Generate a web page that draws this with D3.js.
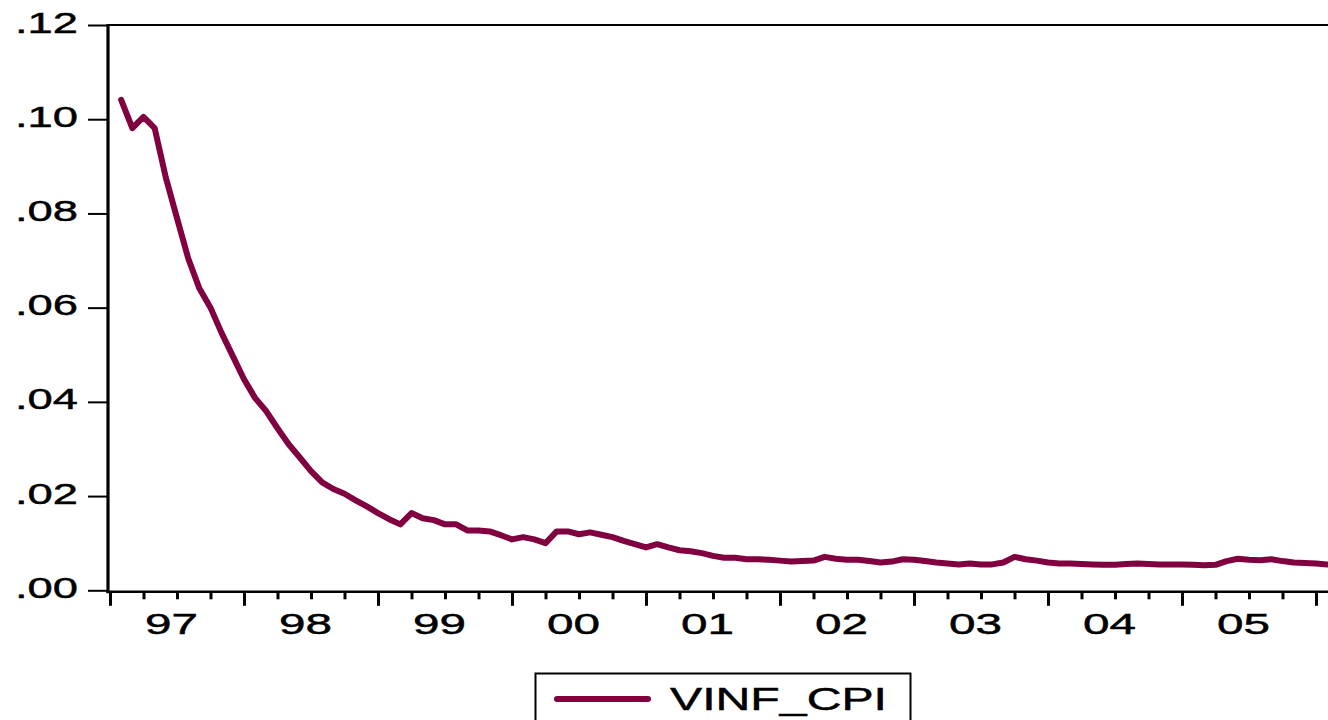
<!DOCTYPE html>
<html>
<head>
<meta charset="utf-8">
<script src="https://cdn.jsdelivr.net/npm/d3@7"></script>
<style>
  html, body { margin: 0; padding: 0; background: #fff; }
  svg { display: block; }
  text { font-family: "Liberation Sans", Arial, Helvetica, sans-serif; fill: #000; stroke: #000; stroke-width: 0.45px; }
</style>
</head>
<body>
<svg id="chart" width="1328" height="720"></svg>
<script>
// ---- data (monthly, 1997M01 .. 2006M01) ----
const seriesName = "VINF_CPI";
const startYear = 1997;
const vinfCpi = [
  0.1041, 0.0981, 0.1005, 0.0981, 0.0876, 0.0790, 0.0705, 0.0641, 0.0600, 0.0546,
  0.0497, 0.0448, 0.0408, 0.0380, 0.0344, 0.0310, 0.0282, 0.0253, 0.0229, 0.0215,
  0.0205, 0.0191, 0.0178, 0.0164, 0.0151, 0.0140, 0.0164, 0.0153, 0.0149, 0.0140,
  0.0140, 0.0127, 0.0127, 0.0125, 0.0117, 0.0108, 0.0113, 0.0108, 0.0100, 0.0125,
  0.0125, 0.0119, 0.0123, 0.0118, 0.0113, 0.0105, 0.0098, 0.0091, 0.0098, 0.0091,
  0.0085, 0.0083, 0.0079, 0.0073, 0.0069, 0.0069, 0.0066, 0.0066, 0.0065, 0.0063,
  0.0061, 0.0062, 0.0063, 0.0071, 0.0067, 0.0065, 0.0065, 0.0062, 0.0059, 0.0061,
  0.0066, 0.0065, 0.0062, 0.0059, 0.0057, 0.0055, 0.0057, 0.0055, 0.0055, 0.0059,
  0.0071, 0.0066, 0.0063, 0.0059, 0.0057, 0.0057, 0.0056, 0.0055, 0.0054, 0.0054,
  0.0056, 0.0057, 0.0056, 0.0055, 0.0055, 0.0055, 0.0054, 0.0053, 0.0054, 0.0062,
  0.0067, 0.0065, 0.0064, 0.0066, 0.0062, 0.0059, 0.0058, 0.0057, 0.0055
];
const months = vinfCpi.map((_, i) => {
  const yr = startYear + Math.floor(i / 12);
  const m = (i % 12) + 1;
  return yr + "M" + String(m).padStart(2, "0");
});
const yTickValues = [0, 0.02, 0.04, 0.06, 0.08, 0.10, 0.12];
const yTickLabels = [".00", ".02", ".04", ".06", ".08", ".10", ".12"];
const yearLabels = ["97", "98", "99", "00", "01", "02", "03", "04", "05"];

// ---- layout ----
const svg = d3.select("#chart");
const plotLeft = 108, plotRight = 1345, plotTop = 25, plotBottom = 590.3;
const lineColor = "#800040";

// x: month-boundary index (0 = start of 1997) -> pixels
const x = d3.scaleLinear().domain([0, 108]).range([110, 1316]);
const y = d3.scaleLinear().domain([0, 0.12]).range([plotBottom, plotTop]);

// top border
svg.append("line")
  .attr("x1", plotLeft).attr("x2", plotRight).attr("y1", plotTop).attr("y2", plotTop)
  .attr("stroke", "#000").attr("stroke-width", 2);

// y axis
const yAxis = d3.axisLeft(y)
  .tickValues(yTickValues)
  .tickFormat((d, i) => yTickLabels[i])
  .tickSize(20)
  .tickPadding(10);
const gy = svg.append("g").attr("transform", `translate(${plotLeft},0)`).call(yAxis);
gy.select(".domain").remove();
gy.selectAll(".tick line").attr("stroke", "#000").attr("stroke-width", 2);
gy.selectAll(".tick text")
  .attr("x", -30)
  .attr("dy", null)
  .attr("y", 7)
  .style("font-size", "29px")
  .attr("text-anchor", "end")
  .attr("textLength", 63)
  .attr("lengthAdjust", "spacingAndGlyphs");
svg.append("line")
  .attr("x1", plotLeft).attr("x2", plotLeft).attr("y1", plotTop - 1).attr("y2", plotBottom + 3)
  .attr("stroke", "#000").attr("stroke-width", 3.2);

// x axis: quarterly ticks, long ticks at year boundaries
const quarterTicks = d3.range(0, 112, 3);
const xAxis = d3.axisBottom(x)
  .tickValues(quarterTicks)
  .tickFormat("")
  .tickSize(13);
const gx = svg.append("g").attr("transform", `translate(0,${plotBottom + 2.5})`).call(xAxis);
gx.select(".domain").remove();
gx.selectAll(".tick line")
  .attr("stroke", "#000")
  .attr("stroke-width", 3)
  .attr("y2", d => (d % 12 === 0 ? 13 : 6.5));
svg.append("line")
  .attr("x1", plotLeft - 1.5).attr("x2", plotRight).attr("y1", plotBottom + 1.5).attr("y2", plotBottom + 1.5)
  .attr("stroke", "#000").attr("stroke-width", 2.6);

// year labels, centred under each year
svg.append("g").selectAll("text").data(yearLabels).join("text")
  .attr("x", (d, i) => x(i * 12 + 5.5))
  .attr("y", 634)
  .attr("text-anchor", "middle")
  .style("font-size", "29px")
  .attr("textLength", 53)
  .attr("lengthAdjust", "spacingAndGlyphs")
  .text(d => d);

// series line (observation k plotted at end of month k)
const line = d3.line()
  .x((d, i) => x(i + 1))
  .y(d => y(d));
svg.append("path")
  .datum(vinfCpi)
  .attr("fill", "none")
  .attr("stroke", lineColor)
  .attr("stroke-width", 6)
  .attr("stroke-linejoin", "round")
  .attr("stroke-linecap", "round")
  .attr("d", line);

// legend
const lg = svg.append("g");
lg.append("rect")
  .attr("x", 535.5).attr("y", 673.5).attr("width", 375).attr("height", 60)
  .attr("fill", "#fff").attr("stroke", "#000").attr("stroke-width", 2);
lg.append("line")
  .attr("x1", 557).attr("x2", 648).attr("y1", 699).attr("y2", 699)
  .attr("stroke", lineColor).attr("stroke-width", 6).attr("stroke-linecap", "round");
lg.append("text")
  .attr("x", 670).attr("y", 710)
  .style("font-size", "32px")
  .attr("textLength", 217)
  .attr("lengthAdjust", "spacingAndGlyphs")
  .text(seriesName);
</script>
</body>
</html>
